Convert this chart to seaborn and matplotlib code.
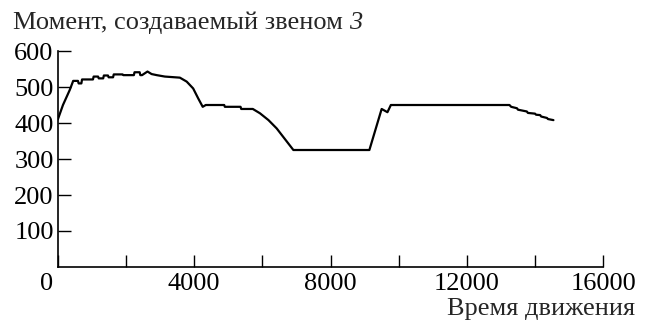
import numpy as np
import matplotlib
matplotlib.use("Agg")
import matplotlib.pyplot as plt
import matplotlib.transforms as mtransforms
import seaborn as sns

# values
time = [0, 150, 350, 450, 590, 610, 690, 710, 1030, 1050, 1180, 1200,
        1330, 1350, 1470, 1490, 1620, 1640, 1900, 1920, 2230, 2250,
        2400, 2420, 2470, 2630, 2750, 2900, 3140, 3580, 3780, 3970,
        4120, 4250, 4340, 4880, 4900, 5360, 5380, 5720, 5930, 6180,
        6420, 6910, 9140, 9500, 9670, 9770, 13250, 13300, 13470, 13500,
        13760, 13790, 14000, 14030, 14150, 14180, 14350, 14380, 14540]
moment = [410, 450, 492, 517, 517, 510, 510, 521, 521, 529, 529, 524,
          524, 532, 532, 527, 527, 535, 535, 533, 533, 541, 541, 533,
          533, 543, 536, 533, 529, 526, 515, 496,
          468, 445, 450, 450, 445, 445, 439, 439, 427, 408,
          385, 325, 325, 439, 430, 450, 450, 445, 441, 437,
          432, 428, 426, 423, 422, 418, 414, 411, 408]

xticks = [0, 2000, 4000, 6000, 8000, 10000, 12000, 14000, 16000]
xtick_labels = ["0", "", "4000", "", "8000", "", "12000", "", "16000"]
yticks = [100, 200, 300, 400, 500, 600]

sns.set_style("ticks")
plt.rcParams['font.family'] = ['Liberation Serif', 'DejaVu Serif']
fs = 19

fig = plt.figure(figsize=(6.5, 3.27), dpi=100)
ax = fig.add_axes([0.089, 0.1835, 0.839, 0.6605])

sns.lineplot(x=time, y=moment, ax=ax, color="black", linewidth=1.6,
             estimator=None, sort=False)

ax.set_xlim(0, 16000)
ax.set_ylim(0, 600)
ax.set_xticks(xticks)
ax.set_xticklabels(xtick_labels)
ax.set_yticks(yticks)
ax.tick_params(direction="in", length=9, width=1, labelsize=fs,
               colors="black", pad=4)
ax.tick_params(axis="y", pad=3)
sns.despine(ax=ax)
for side in ["left", "bottom"]:
    ax.spines[side].set_linewidth(1.2)
    ax.spines[side].set_color("black")

# the "0" sits a bit left of the origin in the reference
lab0 = ax.get_xticklabels()[0]
lab0.set_transform(lab0.get_transform() +
                   mtransforms.ScaledTranslation(-11 / 100, 0, fig.dpi_scale_trans))

title_y = 1 - 29 / 327
t = fig.text(13 / 650, title_y, "Момент, создаваемый звеном ", fontsize=fs,
             ha="left", va="baseline")
fig.canvas.draw()
bb = t.get_window_extent()
fig.text(bb.x1 / fig.bbox.width, title_y, "3", fontsize=fs,
         style="italic", ha="left", va="baseline")

fig.text(635 / 650, 1 - 315 / 327, "Время движения", fontsize=fs,
         ha="right", va="baseline")

fig.savefig("out.png", dpi=100, facecolor="white")
